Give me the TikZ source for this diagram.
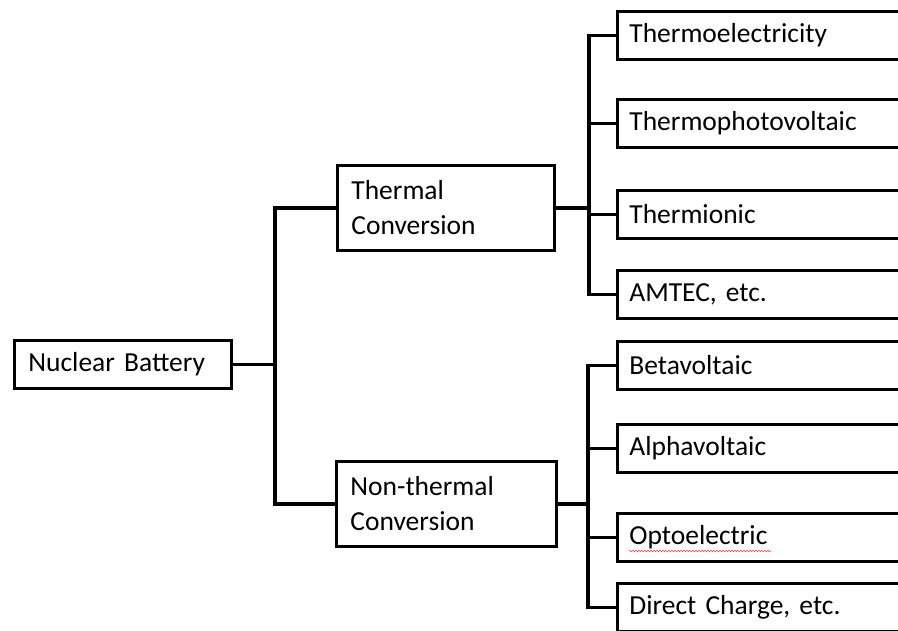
\documentclass[tikz,border=0pt]{standalone}
\usepackage{fontspec}
\setmainfont{Carlito}
\usetikzlibrary{decorations.pathmorphing}
\begin{document}
\begin{tikzpicture}[x=1pt,y=-1pt,
  box/.style={draw=black, line width=2.8pt, fill=white, anchor=north west, align=left,
    font=\fontsize{27.5}{35}\selectfont, inner ysep=0pt},
  leaf/.style={box, text width=280pt, inner xsep=12pt, minimum height=48pt},
  mid/.style={box, text width=189pt, inner xsep=14pt, minimum height=85pt},
  conn/.style={draw=black, line width=3.2pt, line cap=rect}]
\useasboundingbox (0,0) rectangle (898,630);
\clip (0,0) rectangle (898,630);
\fill[white] (0,0) rectangle (898,630);

\node[box, text width=189pt, inner xsep=14pt, minimum height=48pt] (nb) at (13,339) {Nuclear Battery};
\node[mid] (tc) at (336,164) {Thermal\\Conversion};
\node[mid, text width=192pt] (nt) at (335,460) {Non-thermal\\Conversion};

\node[leaf] (l1) at (616,10) {Thermoelectricity};
\node[leaf] (l2) at (616,98) {Thermophotovoltaic};
\node[leaf] (l3) at (616,189) {Thermionic};
\node[leaf] (l4) at (616,269) {AMTEC, etc.};
\node[leaf] (l5) at (616,340) {Betavoltaic};
\node[leaf] (l6) at (616,423) {Alphavoltaic};
\node[leaf] (l7) at (616,512) {Optoelectric};
\node[leaf] (l8) at (616,582) {Direct Charge, etc.};

\coordinate (x1) at (275,0);
\coordinate (x2) at (589,0);
\coordinate (x3) at (588,0);
\coordinate (j1) at (nb.east -| x1);
\coordinate (j2) at (tc.east -| x2);
\coordinate (j3) at (nt.east -| x3);

\draw[conn] (nb.east) -- (j1);
\draw[conn] (tc.west) -| (j1) |- (nt.west);
\draw[conn] (tc.east) -- (j2);
\draw[conn] (nt.east) -- (j3);
\foreach \n in {l1,l2,l3,l4} \draw[conn] (j2) |- (\n.west);
\foreach \n in {l5,l6,l7,l8} \draw[conn] (j3) |- (\n.west);

\draw[red!75, line width=0.6pt, decorate, decoration={snake, amplitude=0.7pt, segment length=3pt}]
  (629,551) -- (771,551);
\end{tikzpicture}
\end{document}
